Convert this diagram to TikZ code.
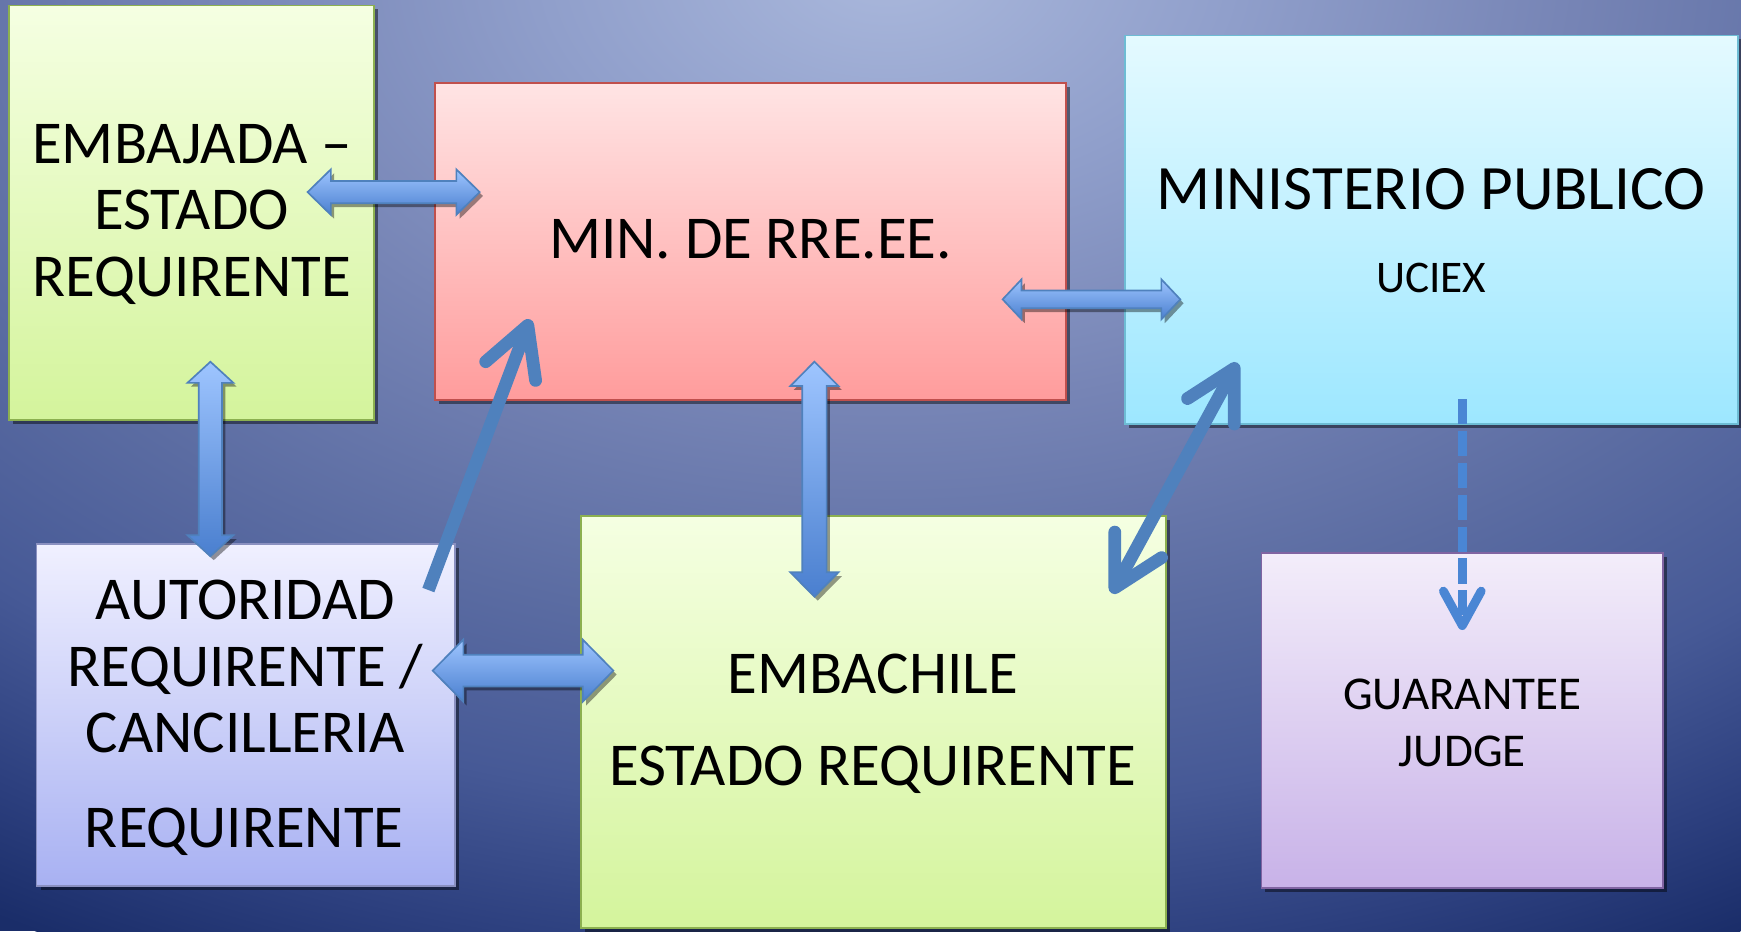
\documentclass[tikz,border=0pt]{standalone}
\usepackage{fontspec}
\setmainfont{Carlito}
\usetikzlibrary{arrows.meta,shadows,calc}
\definecolor{bg0}{HTML}{AAB8DC}
\definecolor{bg1}{HTML}{909FCB}
\definecolor{bg2}{HTML}{7684B5}
\definecolor{bg3}{HTML}{5B6CA2}
\definecolor{bg4}{HTML}{465996}
\definecolor{bg5}{HTML}{2C3F7E}
\definecolor{bg6}{HTML}{1A2D69}
\pgfdeclareradialshading{bgshade}{\pgfpoint{0bp}{0bp}}{color(0bp)=(bg0); color(5bp)=(bg1); color(10bp)=(bg2); color(15bp)=(bg3); color(19bp)=(bg4); color(22.5bp)=(bg5); color(25bp)=(bg6); color(50bp)=(bg6)}
\definecolor{grtop}{HTML}{F5FFE2}
\definecolor{grbot}{HTML}{D4F49C}
\definecolor{gredge}{HTML}{8CB050}
\definecolor{rdtop}{HTML}{FFE4E4}
\definecolor{rdbot}{HTML}{FF9C9C}
\definecolor{rdedge}{HTML}{C0504D}
\definecolor{cytop}{HTML}{E4FAFF}
\definecolor{cybot}{HTML}{9DE7FF}
\definecolor{cyedge}{HTML}{6DBCD4}
\definecolor{lvtop}{HTML}{F0F0FF}
\definecolor{lvbot}{HTML}{A8B1F2}
\definecolor{lvedge}{HTML}{8A90C0}
\definecolor{pptop}{HTML}{F3EDFA}
\definecolor{ppbot}{HTML}{C8B2E8}
\definecolor{ppedge}{HTML}{8064A2}
\definecolor{artop}{HTML}{9EC5FF}
\definecolor{arbot}{HTML}{4A7FCF}
\definecolor{aredge}{HTML}{4F81BD}
\definecolor{arline}{HTML}{4F81BD}
\definecolor{ardash}{HTML}{4A86D4}
\newcommand\blockarrowH[5]{%
  \path[blockarrow] (#1) -- ++(#5,-#4) -- ++(0,#4-#3) -- ($(#2)+(-#5,-#3)$) -- ++(0,#3-#4) -- (#2)
    -- ++(-#5,#4) -- ++(0,#3-#4) -- ($(#1)+(#5,#3)$) -- ++(0,#4-#3) -- cycle;}
\newcommand\blockarrowV[5]{%
  \path[blockarrow] (#1) -- ++(#4,#5) -- ++(#3-#4,0) -- ($(#2)+(#3,-#5)$) -- ++(#4-#3,0) -- (#2)
    -- ++(-#4,-#5) -- ++(#4-#3,0) -- ($(#1)+(-#3,#5)$) -- ++(#3-#4,0) -- cycle;}
\begin{document}
\begin{tikzpicture}[x=0.1mm,y=-0.1mm,
  box/.style={line width=0.15mm, inner sep=0pt, outer sep=0pt,
    drop shadow={shadow xshift=0.35mm, shadow yshift=-0.35mm, opacity=0.45, fill=black}},
  blockarrow/.style={draw=aredge, line width=0.15mm, top color=artop, bottom color=arbot, line join=miter,
    drop shadow={shadow xshift=0.3mm, shadow yshift=-0.35mm, opacity=0.4, fill=black}},
  linearrow/.style={draw=arline, line width=1.15mm, line cap=butt,
    arrows={-Straight Barb[length=4.4mm,width=4.8mm,round]}},
  big/.style={font=\fontsize{15.6pt}{17pt}\selectfont, anchor=base, inner sep=0pt},
  bigger/.style={font=\fontsize{16.2pt}{18pt}\selectfont, anchor=base, inner sep=0pt},
  small/.style={font=\fontsize{11.6pt}{13pt}\selectfont, anchor=base, inner sep=0pt},
  judgetext/.style={font=\fontsize{12.06pt}{13pt}\selectfont, anchor=base, inner sep=0pt}]
\path[use as bounding box] (0,0) rectangle (1568,838.5);
\begin{scope}
  \clip (0,0) rectangle (1568,838.5);
  \fill[bg6] (0,0) rectangle (1568,838.5);
  \shade[shading=bgshade] (800,-30) ellipse [x radius=1550, y radius=1000];
\end{scope}
% boxes
\node[box, draw=gredge, top color=grtop, bottom color=grbot, minimum width=32.9mm, minimum height=37.3mm] (embajada) at (172.5,191.5) {};
\node[box, draw=rdedge, top color=rdtop, bottom color=rdbot, minimum width=56.8mm, minimum height=28.5mm] (minrree) at (676,217.5) {};
\node[box, draw=cyedge, top color=cytop, bottom color=cybot, minimum width=55.2mm, minimum height=35mm] (mp) at (1289,207) {};
\node[box, draw=lvedge, top color=lvtop, bottom color=lvbot, minimum width=37.7mm, minimum height=30.8mm] (aut) at (221.5,644) {};
\node[box, draw=gredge, top color=grtop, bottom color=grbot, minimum width=52.7mm, minimum height=37.1mm] (embachile) at (786.5,650.5) {};
\node[box, draw=ppedge, top color=pptop, bottom color=ppbot, minimum width=36.2mm, minimum height=30.2mm] (judge) at (1317,649) {};
% texts
\node[big] (emb1) at (173,147) {EMBAJADA –};
\node[big] (emb2) at (172.5,207) {ESTADO};
\node[big] (emb3) at (172.5,267) {REQUIRENTE};
\node[big] (min1) at (676,233) {MIN. DE RRE.EE.};
\node[bigger] (mp1) at (1289,189) {MINISTERIO PUBLICO};
\node[small] (mp2) at (1289,263) {UCIEX};
\node[big] (aut1) at (221,558) {AUTORIDAD};
\node[big] (aut2) at (221,618) {REQUIRENTE /};
\node[big] (aut3) at (221,678) {CANCILLERIA};
\node[big] (aut4) at (220,763) {REQUIRENTE};
\node[big] (ech1) at (786,625) {EMBACHILE};
\node[big] (ech2) at (786,707) {ESTADO REQUIRENTE};
\node[judgetext] (jg1) at (1317,639) {GUARANTEE};
\node[judgetext] (jg2) at (1317,690) {JUDGE};
% connector end points
\coordinate (a1s) at (277,173);
\coordinate (a1e) at (432,173);
\coordinate (a2s) at (903,269.6);
\coordinate (a2e) at (1063,269.6);
\coordinate (a3s) at (189.5,325.8);
\coordinate (a3e) at (189.5,501);
\coordinate (a4s) at (733.5,325.7);
\coordinate (a4e) at (733.5,537.4);
\coordinate (a5s) at (389.7,604);
\coordinate (a5e) at (552.4,604);
\coordinate (d1s) at (385.8,531.4);
\coordinate (d1e) at (477.4,287.6);
\coordinate (d2s) at (1001.3,534.4);
\coordinate (d2e) at (1114.4,326.7);
\coordinate (d3s) at (1317,359.4);
\coordinate (d3e) at (1317,567.4);
% block double arrows
\blockarrowH{a1s}{a1e}{10}{20.5}{21}
\blockarrowH{a2s}{a2e}{8}{18}{17}
\blockarrowV{a3s}{a3e}{10.5}{20.7}{19}
\blockarrowV{a4s}{a4e}{11}{21.7}{22}
\blockarrowH{a5s}{a5e}{14.3}{28}{27.6}
% line arrows
\draw[linearrow] (d1s) -- (d1e);
\draw[linearrow, arrows={Straight Barb[length=4.4mm,width=4.8mm,round]-Straight Barb[length=4.4mm,width=4.8mm,round]}] (d2s) -- (d2e);
\draw[draw=ardash, line width=0.8mm, dash pattern=on 2.27mm off 0.6mm,
  arrows={-Straight Barb[length=3.1mm,width=3.4mm,round]}] (d3s) -- (d3e);
\end{tikzpicture}
\end{document}
